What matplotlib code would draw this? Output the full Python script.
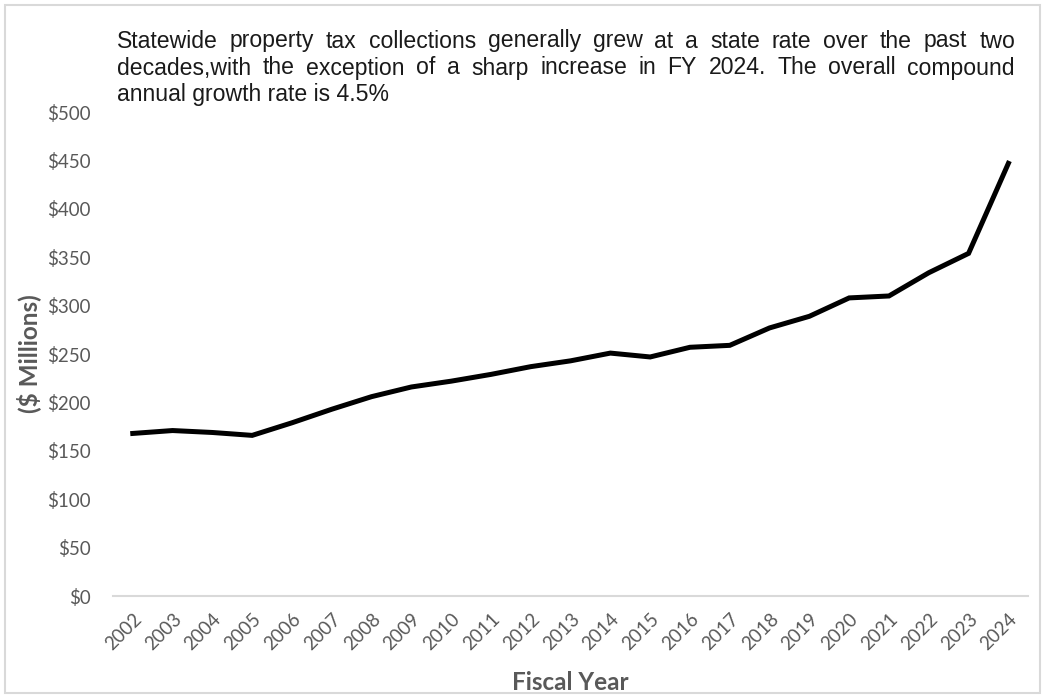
import matplotlib
matplotlib.use("Agg")
import matplotlib.pyplot as plt
from matplotlib.patches import Rectangle

# ---- data ($ millions) ----
years = [str(y) for y in range(2002, 2025)]
collections = [168, 171, 169, 166, 179, 193, 206, 216, 222, 229, 237, 243,
               251, 247, 257, 259, 277, 289, 308, 310, 334, 354, 447]
y_ticks = [0, 50, 100, 150, 200, 250, 300, 350, 400, 450, 500]
title_lines = [
    "Statewide property tax collections generally grew at a state rate over the past two",
    "decades,with the exception of a sharp increase in FY 2024. The overall compound",
    "annual growth rate is 4.5%",
]

GRAY = "#595959"
TICK_FONT = ["Lato", "DejaVu Sans"]

fig = plt.figure(figsize=(10.45, 6.98), dpi=100)
ax = fig.add_axes([0.108, 0.146, 0.876, 0.6935])

x = list(range(len(years)))
ax.plot(x, collections, color="black", linewidth=3.6, solid_joinstyle="miter", zorder=3)

ax.set_xlim(-0.5, len(years) - 0.5)
ax.set_ylim(0, 500)
ax.set_yticks(y_ticks)
ax.set_yticklabels([f"${v}" for v in y_ticks], fontsize=13.5, color=GRAY, family=TICK_FONT)
ax.set_xticks(x)
ax.set_xticklabels(years, rotation=45, ha="right", va="top", rotation_mode="anchor",
                   fontsize=13.5, color=GRAY, family=TICK_FONT)
ax.tick_params(axis="both", length=0)
ax.tick_params(axis="y", pad=16)
ax.tick_params(axis="x", pad=10)

for side in ["top", "right", "left"]:
    ax.spines[side].set_visible(False)
ax.spines["bottom"].set_color("#d9d9d9")
ax.spines["bottom"].set_linewidth(1.5)

ax.set_xlabel("Fiscal Year", fontsize=17.5, fontweight="bold", color=GRAY,
              family=TICK_FONT, labelpad=13)
ax.set_ylabel("($ Millions)", fontsize=17.5, fontweight="bold", color=GRAY,
              family=TICK_FONT, labelpad=4)

# justified title block (first two lines stretched to the same width)
renderer = fig.canvas.get_renderer()
left_px, right_px = 117, 1015
W, H = fig.bbox.width, fig.bbox.height
TITLE_SIZE = 16.6
for i, line in enumerate(title_lines):
    y_px = 41 + 27 * i
    yf = 1 - y_px / H
    words = line.split(" ")
    if i == len(title_lines) - 1:
        fig.text(left_px / W, yf, line, fontsize=TITLE_SIZE, family="Liberation Sans",
                 color="#1a1a1a", ha="left", va="center")
        continue
    items = [fig.text(0, yf, w, fontsize=TITLE_SIZE, family="Liberation Sans",
                      color="#1a1a1a", ha="left", va="center") for w in words]
    widths = [t.get_window_extent(renderer).width for t in items]
    gap = (right_px - left_px - sum(widths)) / (len(words) - 1)
    pos = left_px
    for t, w in zip(items, widths):
        t.set_x(pos / W)
        pos += w + gap

fig.add_artist(Rectangle((5 / W, 5 / H), 1 - 10 / W, 1 - 10 / H, transform=fig.transFigure,
                         fill=False, edgecolor="#d9d9d9", linewidth=1.5))

fig.savefig("out.png", dpi=100)
